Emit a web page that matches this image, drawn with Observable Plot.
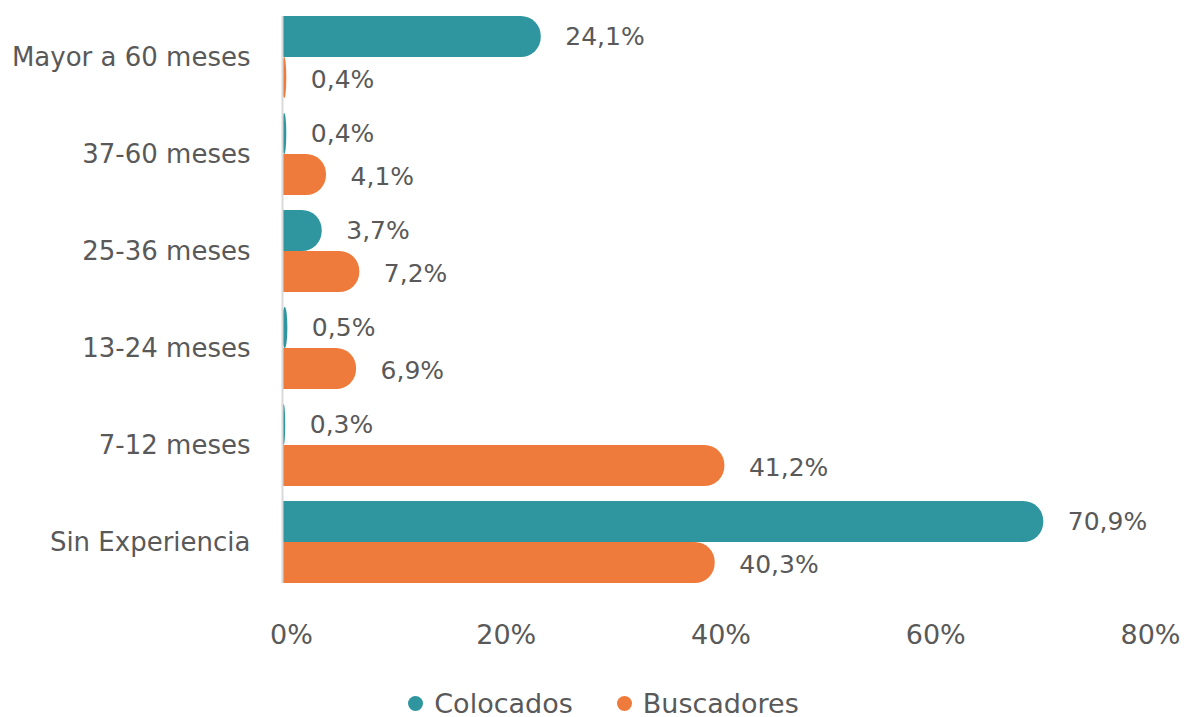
<!DOCTYPE html>
<html>
<head>
<meta charset="utf-8">
<script src="https://cdn.jsdelivr.net/npm/d3@7"></script>
<script src="https://cdn.jsdelivr.net/npm/@observablehq/plot@0.6"></script>
<style>
  body { margin: 0; background: #fff; }
  #chart { width: 1187px; }
  .legend { display: flex; justify-content: center; align-items: center; height: 40px; margin-top: 23px; padding-left: 20px;
    font-family: "DejaVu Sans", sans-serif; font-size: 27px; color: #595959; }
  .legend .item { display: flex; align-items: center; margin: 0 22px; }
  .legend .sw { width: 15px; height: 15px; border-radius: 50%; margin-right: 11px; display: inline-block; }
</style>
</head>
<body>
<div id="chart"></div>
<script>
const categories = ["Mayor a 60 meses", "37-60 meses", "25-36 meses", "13-24 meses", "7-12 meses", "Sin Experiencia"];
const colocados = [24.1, 0.4, 3.7, 0.5, 0.3, 70.9];
const buscadores = [0.4, 4.1, 7.2, 6.9, 41.2, 40.3];
const seriesNames = ["Colocados", "Buscadores"];
const seriesColors = ["#2F959E", "#EE7B3B"];
const xTicks = [0, 20, 40, 60, 80];

const fmt = v => v.toFixed(1).replace(".", ",") + "%";
const colData = categories.map((c, i) => ({category: c, value: colocados[i]}));
const busData = categories.map((c, i) => ({category: c, value: buscadores[i]}));

const textColor = "#595959";
const half = 41;

function barsFor(data, color, top) {
  const inset = top ? {insetBottom: half} : {insetTop: half};
  return [
    Plot.barX(data, {x: "value", y: "category", fill: color, rx: 20, ...inset}),
    Plot.barX(data, {x: "value", y: "category", fill: color, insetRight: 20, ...inset}),
    Plot.text(data, {x: "value", y: "category", text: d => fmt(d.value), textAnchor: "start",
      dx: 24, dy: top ? -20.5 : 22.5, fill: textColor, fontSize: 25})
  ];
}

const chart = Plot.plot({
  width: 1187,
  height: 660,
  marginLeft: 282,
  marginRight: 46,
  marginTop: 16,
  marginBottom: 77,
  style: {fontFamily: "DejaVu Sans, sans-serif", color: textColor, background: "#fff"},
  x: {domain: [0, 80], axis: null},
  y: {domain: categories, paddingInner: 0.155, paddingOuter: 0, axis: null},
  marks: [
    Plot.axisY({tickSize: 0, tickPadding: 32, fontSize: 26, fill: textColor, label: null}),
    Plot.axisX({ticks: xTicks, tickFormat: d => d + "%", tickSize: 0, tickPadding: 41, dx: 9, fontSize: 27, fill: textColor, label: null}),
    ...barsFor(colData, seriesColors[0], true),
    ...barsFor(busData, seriesColors[1], false),
    Plot.ruleX([0], {stroke: "#d9d9d9", strokeWidth: 2})
  ]
});
document.getElementById("chart").appendChild(chart);

const legend = document.createElement("div");
legend.className = "legend";
seriesNames.forEach((name, i) => {
  const item = document.createElement("span");
  item.className = "item";
  const sw = document.createElement("span");
  sw.className = "sw";
  sw.style.background = seriesColors[i];
  item.appendChild(sw);
  item.appendChild(document.createTextNode(name));
  legend.appendChild(item);
});
document.getElementById("chart").appendChild(legend);
</script>
</body>
</html>
